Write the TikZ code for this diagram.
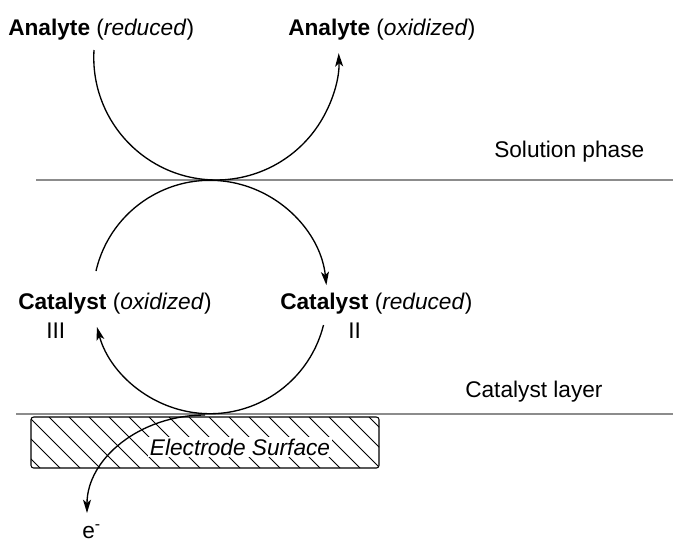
\documentclass[tikz,border=0pt]{standalone}
\usepackage{fontspec}
\setmainfont{Liberation Sans}
\usetikzlibrary{arrows.meta}
\begin{document}
\begin{tikzpicture}[x=0.75pt,y=-0.75pt,
  lbl/.style={anchor=base west,inner sep=0pt,font=\fontsize{17}{20}\selectfont},
  layer/.style={draw=black!45,line width=1pt},
  cyc/.style={line width=1pt,-{Stealth[length=10pt,width=6pt,inset=2.5pt]}}]
\useasboundingbox (0,0) rectangle (673,544);
\coordinate (sl) at (36,180);
\coordinate (sr) at (673,180);
\coordinate (cl) at (16,414);
\coordinate (cr) at (673,414);
\draw[layer] (sl) -- (sr);
\draw[layer] (cl) -- (cr);
\node[lbl] (anR) at (8,35) {\textbf{Analyte} (\textit{reduced})};
\node[lbl] (anO) at (288,35) {\textbf{Analyte} (\textit{oxidized})};
\node[lbl] (solph) at (494,157) {Solution phase};
\node[lbl] (catO) at (18,309) {\textbf{Catalyst} (\textit{oxidized})};
\node[lbl] (cIII) at (46,338) {III};
\node[lbl] (catR) at (280,309) {\textbf{Catalyst} (\textit{reduced})};
\node[lbl] (cII) at (348,338) {II};
\node[lbl] (catly) at (465,397) {Catalyst layer};
\begin{scope}
\clip[rounded corners=2pt] (31,417) rectangle (379,468);
\foreach \x in {-31,-11,...,379}
  \draw[line width=0.6pt] (\x,417) -- ++(51,51);
\end{scope}
\draw[line width=0.8pt,rounded corners=2pt] (31,417) rectangle (379,468);
\node[lbl,anchor=base,fill=white,inner sep=1.5pt,font=\fontsize{17}{20}\selectfont\itshape] (elec) at (240,455) {Electrode Surface};
\coordinate (aA) at (94,50);
\coordinate (cA) at (96,271);
\coordinate (cB) at (323.5,325);
\coordinate (eA) at (205,415);
\draw[cyc] (aA) arc[start angle=183.5,end angle=-2,radius=122.5];
\draw[cyc] (cA) arc[start angle=193,end angle=354,radius=117];
\draw[cyc] (cB) arc[start angle=14,end angle=165,radius=117];
\draw[cyc] (eA) arc[start angle=-90,end angle=-180,x radius=118,y radius=98];
\node[lbl] (elx) at (82,538) {e\textsuperscript{-}};
\end{tikzpicture}
\end{document}
